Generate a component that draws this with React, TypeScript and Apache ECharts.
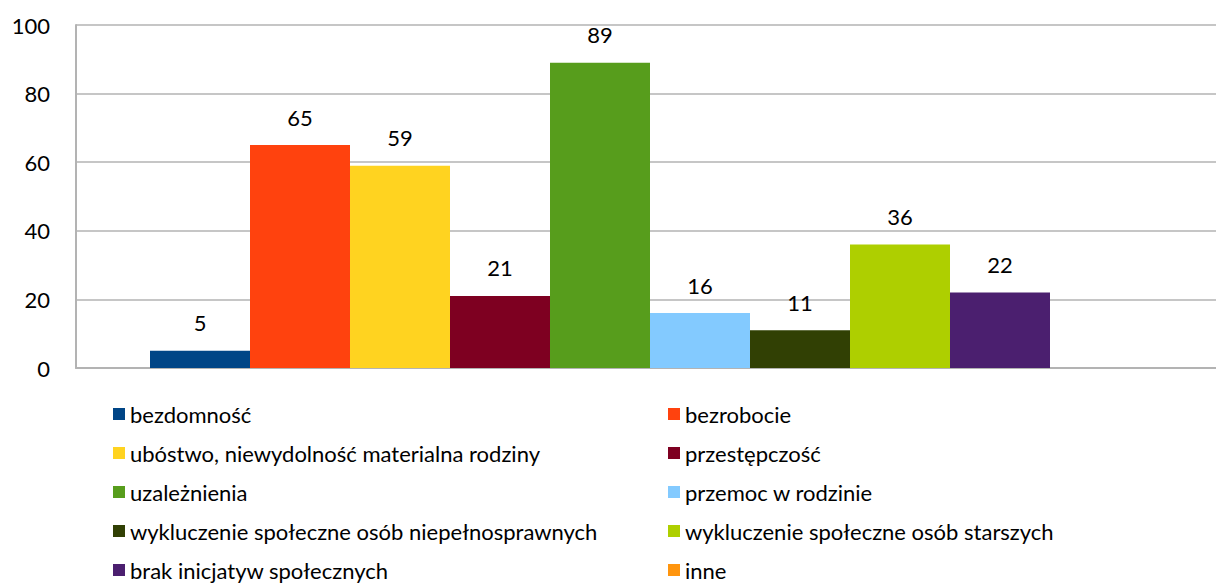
import React, { useEffect, useRef } from "react";
import * as echarts from "echarts";

const seriesNames = [
  "bezdomność",
  "bezrobocie",
  "ubóstwo, niewydolność materialna rodziny",
  "przestępczość",
  "uzależnienia",
  "przemoc w rodzinie",
  "wykluczenie społeczne osób niepełnosprawnych",
  "wykluczenie społeczne osób starszych",
  "brak inicjatyw społecznych",
  "inne",
];
const seriesValues = [5, 65, 59, 21, 89, 16, 11, 36, 22, 0];
const seriesColors = [
  "#004586",
  "#ff420e",
  "#ffd320",
  "#7e0021",
  "#579d1c",
  "#83caff",
  "#314004",
  "#aecf00",
  "#4b1f6f",
  "#ff950e",
];
const categories = [""];
const yTicks = { min: 0, max: 100, interval: 20 };

const FONT = "Lato";

export default function App() {
  const ref = useRef<HTMLDivElement>(null);
  useEffect(() => {
    document.body.style.margin = "0";
    const chart = echarts.init(ref.current!, null, { renderer: "svg" });
    const legendText = { fontFamily: FONT, fontSize: 22, color: "#000", lineHeight: 24 };
    const legendCommon = {
      orient: "vertical" as const,
      top: 402,
      height: 220,
      padding: 0,
      itemGap: 15,
      itemWidth: 12,
      itemHeight: 12,
      icon: "rect",
      textStyle: legendText,
      selectedMode: false,
    };
    chart.setOption({
      animation: false,
      backgroundColor: "#fff",
      grid: { left: 76, right: 0, top: 25, bottom: 220 },
      xAxis: {
        type: "category",
        data: categories,
        axisTick: { show: false },
        axisLabel: { show: false },
        axisLine: { lineStyle: { color: "#b3b3b3", width: 2 } },
      },
      yAxis: {
        type: "value",
        min: yTicks.min,
        max: yTicks.max,
        interval: yTicks.interval,
        axisLine: { show: true, lineStyle: { color: "#b3b3b3", width: 2 } },
        axisTick: { show: false },
        splitLine: { lineStyle: { color: "#b3b3b3", width: 1.5 } },
        axisLabel: { fontFamily: FONT, fontSize: 22, color: "#000", margin: 26 },
      },
      legend: [
        {
          ...legendCommon,
          left: 113,
          data: seriesNames.filter((_, i) => i % 2 === 0),
        },
        {
          ...legendCommon,
          left: 668,
          data: seriesNames.filter((_, i) => i % 2 === 1),
        },
      ],
      series: seriesNames.map((name, i) => ({
        name,
        type: "bar",
        barWidth: 100,
        barGap: "0%",
        itemStyle: { color: seriesColors[i] },
        label: {
          show: true,
          position: "top",
          distance: 17,
          fontFamily: FONT,
          fontSize: 22,
          color: "#000",
          formatter: (p: any) => (p.value ? String(p.value) : ""),
        },
        data: [seriesValues[i]],
      })),
    });
    return () => chart.dispose();
  }, []);
  return (
    <div style={{ width: 1216, height: 588, overflow: "hidden", position: "relative" }}>
      <div ref={ref} style={{ width: 1224, height: 588 }} />
    </div>
  );
}
